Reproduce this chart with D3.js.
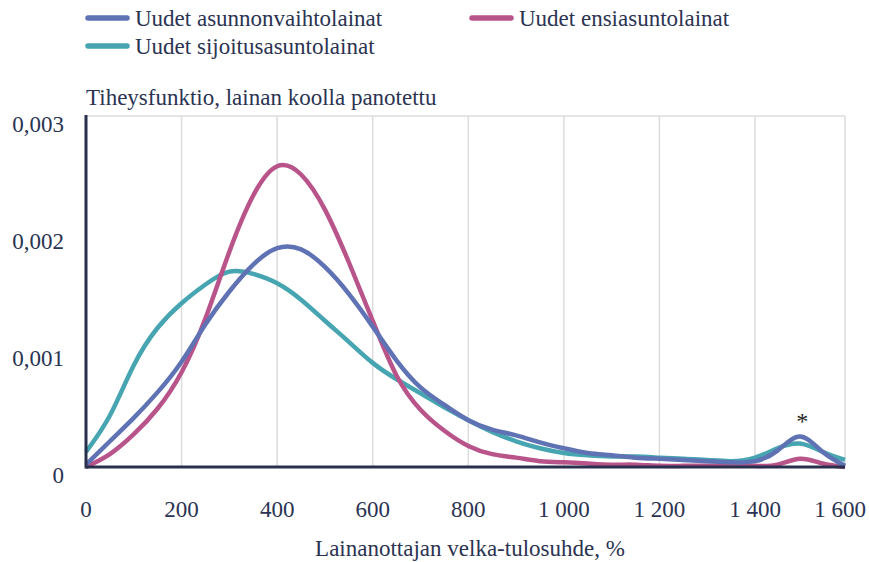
<!DOCTYPE html>
<html>
<head>
<meta charset="utf-8">
<script src="https://cdn.jsdelivr.net/npm/d3@7"></script>
<style>
  body { margin: 0; background: #fff; }
  text { font-family: "Liberation Serif", "Times New Roman", serif; fill: #2b3352; }
</style>
</head>
<body>
<div id="chart"></div>
<script>
// x values, velka-tulosuhde %
var xValues = [0, 50, 100, 150, 200, 250, 300, 350, 400, 450, 500, 550, 600, 650, 700, 750, 800,
               850, 900, 950, 1000, 1050, 1100, 1150, 1200, 1250, 1300, 1350, 1400, 1450, 1500, 1550, 1600];

var vaihto = [0.00002, 0.00022, 0.00042, 0.00064, 0.0009, 0.00122, 0.0015, 0.00173, 0.00187, 0.00186, 0.00171,
              0.00148, 0.0012, 0.00091, 0.00068, 0.00053, 0.0004, 0.00032, 0.00027, 0.00021, 0.00016,
              0.00012, 0.0001, 0.00008, 0.00007, 0.00006, 0.00005, 0.00004, 0.00005, 0.00014, 0.00026, 0.00013, 0.00001];

var ensi = [0, 0.00011, 0.00028, 0.0005, 0.00081, 0.00127, 0.00184, 0.00232, 0.00257, 0.0025, 0.0022,
            0.00175, 0.00125, 0.00078, 0.00049, 0.00031, 0.00018, 0.00011, 0.00008, 0.00005, 0.00004,
            0.00003, 0.00002, 0.00002, 0.00001, 0.00001, 0.00001, 0.00001, 0.00001, 0.00002, 0.00007, 0.00003, 0];

var sijoitus = [0.00013, 0.00044, 0.00087, 0.00119, 0.0014, 0.00156, 0.00167, 0.00165, 0.00157, 0.00143, 0.00125,
                0.00107, 0.00089, 0.00075, 0.00063, 0.00051, 0.0004, 0.0003, 0.00022, 0.00016, 0.00012,
                0.0001, 0.00009, 0.00009, 0.00008, 0.00007, 0.00006, 0.00005, 0.00008, 0.00016, 0.0002, 0.00013, 0.00006];

var seriesNames = ["Uudet asunnonvaihtolainat", "Uudet ensiasuntolainat", "Uudet sijoitusasuntolainat"];
var seriesColors = ["#5f72b4", "#b9548a", "#46a5b1"];
var xTicks = [0, 200, 400, 600, 800, 1000, 1200, 1400, 1600];
var yTicks = [0, 0.001, 0.002, 0.003];

var width = 869, height = 562;

var svg = d3.select("#chart").append("svg")
    .attr("width", width)
    .attr("height", height);

// polylinear so gridlines sit where they are in the original
var x = d3.scaleLinear().domain([0, 1400, 1600]).range([86, 755, 845]);
var y = d3.scaleLinear().domain([0, 0.003]).range([467, 116]);

var fmtX = function (d) { return d >= 1000 ? Math.floor(d / 1000) + "\u00a0" + d3.format("03d")(d % 1000) : d; };
var fmtY = function (d) { return d === 0 ? "0" : d3.format(".3f")(d).replace(".", ","); };

// gridlines
svg.append("g").selectAll("line.v")
    .data(xTicks.slice(1))
    .enter().append("line")
    .attr("x1", d => x(d)).attr("x2", d => x(d))
    .attr("y1", y(0.003)).attr("y2", y(0))
    .attr("stroke", "#dcdcdc").attr("stroke-width", 1.5);

svg.append("line")
    .attr("x1", x(0)).attr("x2", x(1600))
    .attr("y1", y(0.003)).attr("y2", y(0.003))
    .attr("stroke", "#dcdcdc").attr("stroke-width", 1.5);

// curves
var line = d3.line()
    .x((d, i) => x(xValues[i]))
    .y(d => y(Math.max(0, d)))
    .curve(d3.curveNatural);

var allSeries = [vaihto, ensi, sijoitus];
var drawOrder = [2, 1, 0];
drawOrder.forEach(function (k) {
    svg.append("path")
        .datum(allSeries[k])
        .attr("d", line)
        .attr("fill", "none")
        .attr("stroke", seriesColors[k])
        .attr("stroke-width", 4.5)
        .attr("stroke-linejoin", "round");
});

// axes
svg.append("line")
    .attr("x1", x(0)).attr("x2", x(0))
    .attr("y1", y(0.003) - 1).attr("y2", y(0) + 1.5)
    .attr("stroke", "#28304c").attr("stroke-width", 3);
svg.append("line")
    .attr("x1", x(0)).attr("x2", x(1600))
    .attr("y1", y(0)).attr("y2", y(0))
    .attr("stroke", "#28304c").attr("stroke-width", 3);

// tick labels
svg.append("g").selectAll("text")
    .data(yTicks)
    .enter().append("text")
    .attr("x", 64)
    .attr("y", d => y(d) + 8)
    .attr("dy", "0.35em")
    .attr("text-anchor", "end")
    .style("font-size", "23px")
    .text(fmtY);

// last label would run off the page, so it is right-aligned at the edge
svg.append("g").selectAll("text")
    .data(xTicks)
    .enter().append("text")
    .attr("x", (d, i) => i === xTicks.length - 1 ? 866 : x(d))
    .attr("y", 509)
    .attr("dy", "0.35em")
    .attr("text-anchor", (d, i) => i === xTicks.length - 1 ? "end" : "middle")
    .style("font-size", "23px")
    .text(fmtX);

svg.append("text")
    .attr("x", 470).attr("y", 548)
    .attr("dy", "0.35em")
    .attr("text-anchor", "middle")
    .style("font-size", "23px")
    .text("Lainanottajan velka-tulosuhde, %");

svg.append("text")
    .attr("x", 86).attr("y", 97)
    .attr("dy", "0.35em")
    .style("font-size", "23px")
    .text("Tiheysfunktio, lainan koolla panotettu");

// asterisk over the 1500 peak
svg.append("text")
    .attr("x", x(1505)).attr("y", 421)
    .attr("dy", "0.35em")
    .attr("text-anchor", "middle")
    .style("font-size", "24px")
    .style("fill", "#222")
    .text("*");

// legend
var legendPos = [[86, 18], [470, 18], [86, 46]];
var legend = svg.append("g").selectAll("g")
    .data(seriesNames)
    .enter().append("g")
    .attr("transform", (d, i) => "translate(" + legendPos[i][0] + "," + legendPos[i][1] + ")");

legend.append("line")
    .attr("x1", 2).attr("x2", 41)
    .attr("stroke", (d, i) => seriesColors[i])
    .attr("stroke-width", 5.5)
    .attr("stroke-linecap", "round");

legend.append("text")
    .attr("x", 49)
    .attr("dy", "0.35em")
    .style("font-size", "23px")
    .text(d => d);
</script>
</body>
</html>
